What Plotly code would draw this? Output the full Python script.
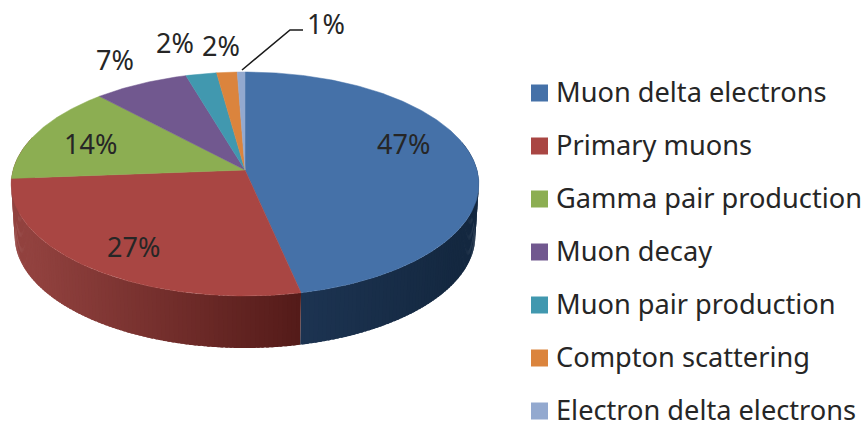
import numpy as np
import plotly.graph_objects as go

# ---- data ----
categories = ["Muon delta electrons", "Primary muons", "Gamma pair production", "Muon decay",
              "Muon pair production", "Compton scattering", "Electron delta electrons"]
shares = [46.6, 27.2, 14.2, 7.4, 2.4, 1.6, 0.6]

# ---- style ----
top_colors = ["#4571a8", "#a94643", "#8cae52", "#71588f", "#4198af", "#db843d", "#93a9cf"]
side_left = {0: (29, 52, 82), 1: (146, 66, 63)}
side_right = {0: (20, 40, 64), 1: (84, 27, 25)}
FONT = "Noto Sans"
TEXT = "#262626"

# Tilted disc with perspective: unit circle -> picture plane
CX, APEX_Y, SX, A, C = 245.0, 170.0, 232.0, 89.0, -0.125
DEPTH, RIM = 52.0, 0.985


def project(theta):
    u, v = np.sin(theta), -np.cos(theta)
    d = 1 + C * v
    return CX + SX * u / d, (A * v + APEX_Y) / d


def rim_low(theta):
    x, y = project(theta)
    return CX + (x - CX) * RIM, y + DEPTH


cum = np.concatenate([[0], np.cumsum(shares)]) / np.sum(shares) * 2 * np.pi
fig = go.Figure()

# side wall (front half only; the top face hides the rest)
front_a, front_b = np.radians(75), np.radians(288)
step = np.radians(1.0)
for i in side_left:
    a = max(cum[i], front_a)
    b = front_b if i == 1 else min(cum[i + 1], front_b)
    n = max(2, int((b - a) / step))
    edges = np.linspace(a, b, n + 1)
    xa, xb = project(np.array([a, b]))[0]
    lo, hi = min(xa, xb), max(xa, xb)
    order = range(n)
    for s in order:
        # each strip runs a little under its neighbour so no seam shows
        end = min(edges[s + 1] + step * 0.6, b)
        t = np.linspace(edges[s], end, 4)
        xt, yt = project(t)
        xl, yl = rim_low(t)
        f = float(np.clip((np.mean(xt) - lo) / max(hi - lo, 1), 0, 1))
        col = tuple(int(side_left[i][k] + (side_right[i][k] - side_left[i][k]) * f) for k in range(3))
        fig.add_trace(go.Scatter(x=np.r_[xt, xl[::-1]], y=np.r_[yt, yl[::-1]], mode="none",
                                 fill="toself", fillcolor=f"rgb{col}",
                                 hoverinfo="skip", showlegend=False))

# top face
for i in range(len(shares)):
    t = np.linspace(cum[i], cum[i + 1], max(3, int((cum[i + 1] - cum[i]) / 0.01)))
    xt, yt = project(t)
    fig.add_trace(go.Scatter(x=np.r_[CX, xt, CX], y=np.r_[APEX_Y, yt, APEX_Y], mode="lines",
                             fill="toself", fillcolor=top_colors[i],
                             line=dict(color=top_colors[i], width=0.5),
                             name=categories[i], showlegend=False))

# leader line of the smallest slice
fig.add_trace(go.Scatter(x=[242, 290, 303], y=[70, 30, 30], mode="lines",
                         line=dict(color="#1a1a1a", width=1.6), hoverinfo="skip", showlegend=False))

# percentage labels
label_xy = [(403, 143), (133, 246), (90, 143), (115, 59), (175, 42), (221, 45), (326, 23)]
annotations = []
for v, (lx, ly) in zip(shares, label_xy):
    annotations.append(dict(x=lx, y=ly, xref="x", yref="y", text=f"{v:.0f}%", showarrow=False,
                            font=dict(family=FONT, size=27, color=TEXT), xanchor="center", yanchor="middle"))

# legend
legend_y = [93 + 53 * k for k in range(len(categories))]
fig.add_trace(go.Scatter(x=[539.5] * len(categories), y=legend_y, mode="markers",
                         marker=dict(symbol="square", size=17, color=top_colors, line=dict(width=0)),
                         hoverinfo="skip", showlegend=False))
for name, ly in zip(categories, legend_y):
    annotations.append(dict(x=554, y=ly - 2, xref="x", yref="y", text=name, showarrow=False,
                            font=dict(family=FONT, size=27.2, color=TEXT), xanchor="left", yanchor="middle"))

fig.update_layout(width=868, height=427, margin=dict(l=0, r=0, t=0, b=0),
                  paper_bgcolor="white", plot_bgcolor="white", showlegend=False,
                  annotations=annotations,
                  xaxis=dict(range=[0, 868], visible=False, fixedrange=True),
                  yaxis=dict(range=[427, 0], visible=False, fixedrange=True))
fig.write_html("out.html", config=dict(displayModeBar=False),
               post_script="document.body.style.margin='0';document.body.style.overflow='hidden';")
